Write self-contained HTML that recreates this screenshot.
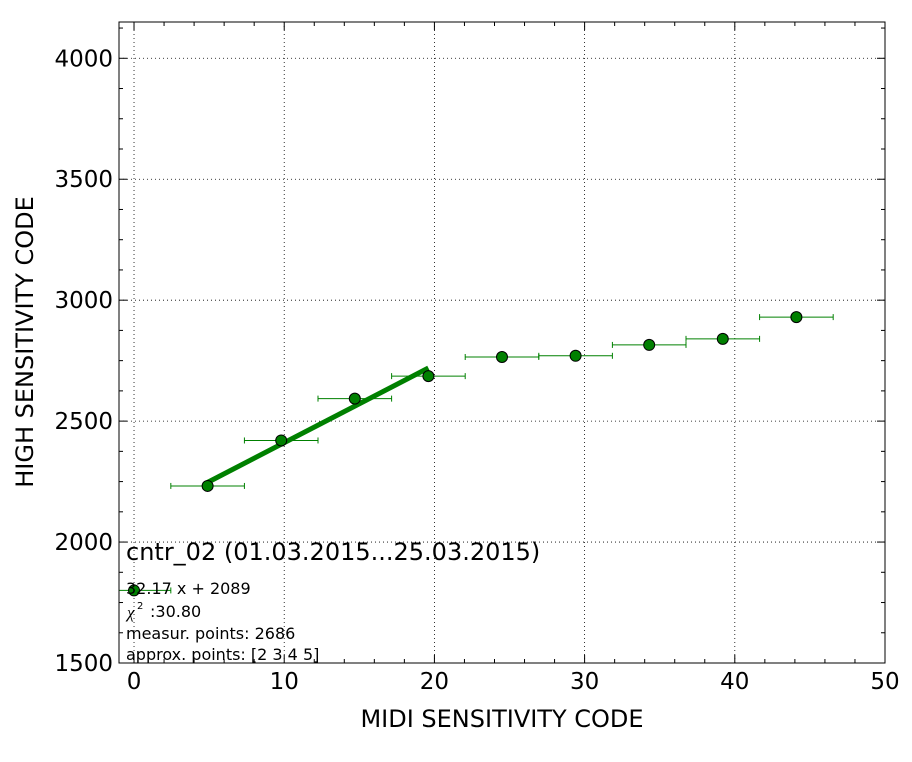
<!DOCTYPE html>
<html><head><meta charset="utf-8"><style>body{margin:0;background:#fff}svg{display:block;font-family:"DejaVu Sans","Liberation Sans",sans-serif}</style></head>
<body>
<svg id="c" width="912" height="762" xmlns="http://www.w3.org/2000/svg"></svg>
<script>
const xs=[0,4.9,9.8,14.7,19.6,24.5,29.4,34.3,39.2,44.1];
const ys=[1800,2232,2420,2593,2686,2765,2770,2815,2840,2930];
const xerr=[2.45,2.45,2.45,2.45,2.45,2.45,2.45,2.45,2.45,2.45];
const fitRange=[4.9,19.6];
const fitSlope=32.17, fitIntercept=2089;
const xTicks=[0,10,20,30,40,50];
const yTicks=[1500,2000,2500,3000,3500,4000];
const L=119,R=885,T=22,B=663,X0=-1,X1=50,Y0=1500,Y1=4150;
const sx=v=>L+(v-X0)/(X1-X0)*(R-L), sy=v=>B-(v-Y0)/(Y1-Y0)*(B-T);
const svg=document.getElementById('c');const NS='http://www.w3.org/2000/svg';
function mk(t,a,p){const e=document.createElementNS(NS,t);for(const k in a)e.setAttribute(k,a[k]);(p||svg).appendChild(e);return e;}
const clip=mk('clipPath',{id:'pc'});mk('rect',{x:L,y:T,width:R-L,height:B-T},clip);
const grid=mk('g',{});
xTicks.forEach(v=>{const x=sx(v);if(x>L&&x<R)mk('line',{x1:x,x2:x,y1:T,y2:B,stroke:'#000','stroke-width':0.8,'stroke-dasharray':'1,3'},grid);
 mk('line',{x1:x,x2:x,y1:B,y2:B-8,stroke:'#000'});mk('line',{x1:x,x2:x,y1:T,y2:T+8,stroke:'#000'});
 const t=mk('text',{x:x,y:B+26,'text-anchor':'middle','font-size':23});t.textContent=v;});
for(let v=0;v<50;v+=2){if(v%10){const x=sx(v);mk('line',{x1:x,x2:x,y1:B,y2:B-4,stroke:'#000'});mk('line',{x1:x,x2:x,y1:T,y2:T+4,stroke:'#000'});}}
yTicks.forEach(v=>{const y=sy(v);if(y>T&&y<B)mk('line',{x1:L,x2:R,y1:y,y2:y,stroke:'#000','stroke-width':0.8,'stroke-dasharray':'1,3'},grid);
 mk('line',{x1:L,x2:L+8,y1:y,y2:y,stroke:'#000'});mk('line',{x1:R,x2:R-8,y1:y,y2:y,stroke:'#000'});
 const t=mk('text',{x:L-6,y:y+8,'text-anchor':'end','font-size':23});t.textContent=v;});
for(let v=1500;v<4150;v+=125){if(v%500){const y=sy(v);mk('line',{x1:L,x2:L+4,y1:y,y2:y,stroke:'#000'});mk('line',{x1:R,x2:R-4,y1:y,y2:y,stroke:'#000'});}}
const pg=mk('g',{'clip-path':'url(#pc)'});
xs.forEach((x,i)=>{const e=mk('g',{},pg);
 const y=sy(ys[i]),a=sx(x-xerr[i]),b=sx(x+xerr[i]);
 mk('line',{x1:a,x2:b,y1:y,y2:y,stroke:'#008000','stroke-width':1},e);
 mk('line',{x1:a,x2:a,y1:y-3,y2:y+3,stroke:'#008000'},e);mk('line',{x1:b,x2:b,y1:y-3,y2:y+3,stroke:'#008000'},e);});
const fl=mk('line',{x1:sx(fitRange[0]),y1:sy(fitSlope*fitRange[0]+fitIntercept),x2:sx(fitRange[1]),y2:sy(fitSlope*fitRange[1]+fitIntercept),stroke:'#008000','stroke-width':5},pg);

xs.forEach((x,i)=>{const c=mk('circle',{cx:sx(x),cy:sy(ys[i]),r:5.5,fill:'#008000',stroke:'#000','stroke-width':1},pg);});
mk('rect',{x:L,y:T,width:R-L,height:B-T,fill:'none',stroke:'#000','stroke-width':1});
const texts=[[126,560,24,'cntr_02 (01.03.2015...25.03.2015)','plot-title'],[126,594,16,'32.17 x + 2089','fit-equation'],[150,617,16,':30.80','chi-square'],[126,639,16,'measur. points: 2686','measured-points'],[126,660,16,'approx. points: [2 3 4 5]','approx-points']];
texts.forEach(t=>{const e=mk('text',{x:t[0],y:t[1],'font-size':t[2]});e.textContent=t[3];});
const chi=mk('text',{x:127,y:618,'font-size':17,'font-style':'italic','font-family':'Liberation Serif,serif'});chi.textContent='χ';
const sup=mk('text',{x:137,y:609,'font-size':10});sup.textContent='2';
const xl=mk('text',{x:502,y:727,'text-anchor':'middle','font-size':24});xl.textContent='MIDI SENSITIVITY CODE';
const yl=mk('text',{x:0,y:0,'text-anchor':'middle','font-size':24,transform:'translate(33,342) rotate(-90)'});yl.textContent='HIGH SENSITIVITY CODE';
</script>
</body></html>
